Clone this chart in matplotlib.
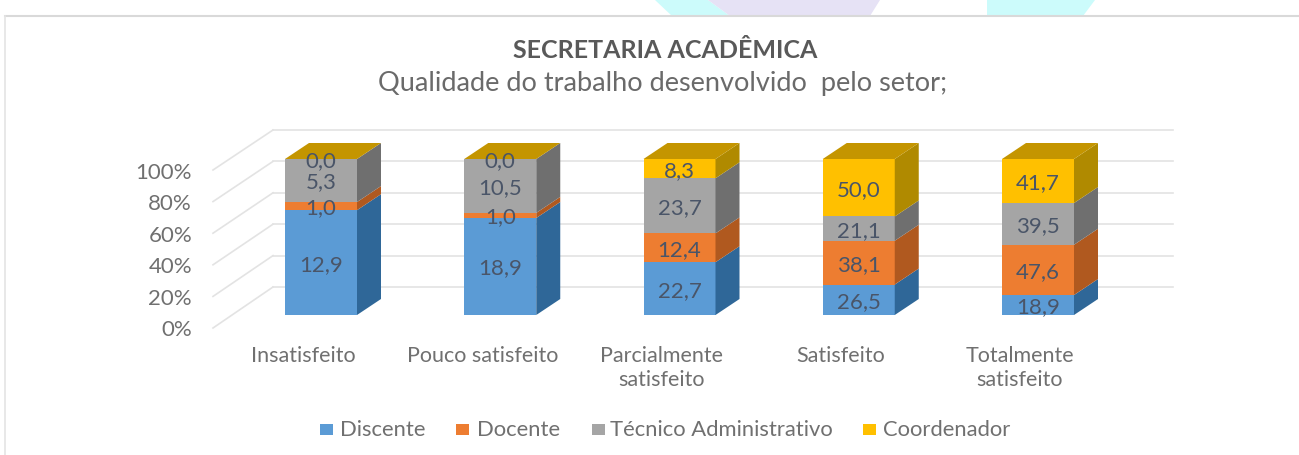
import matplotlib
matplotlib.use("Agg")
import matplotlib.pyplot as plt
from matplotlib.patches import Polygon, Rectangle

categories = ["Insatisfeito", "Pouco satisfeito", "Parcialmente\nsatisfeito", "Satisfeito", "Totalmente\nsatisfeito"]
discente = [12.9, 18.9, 22.7, 26.5, 18.9]
docente = [1.0, 1.0, 12.4, 38.1, 47.6]
tecnico = [5.3, 10.5, 23.7, 21.1, 39.5]
coordenador = [0.0, 0.0, 8.3, 50.0, 41.7]
series_names = ["Discente", "Docente", "Técnico Administrativo", "Coordenador"]
series = [discente, docente, tecnico, coordenador]
y_ticks = [0, 20, 40, 60, 80, 100]

front = ["#5b9bd5", "#ed7d31", "#a5a5a5", "#ffc000"]
side = ["#2f6798", "#b0591f", "#6f6f6f", "#b08a00"]
top = "#c49500"
text_c = "#707070"
FONT = "Lato"

W, H = 1299, 455
fig = plt.figure(figsize=(W / 100, H / 100), dpi=100)
ax = fig.add_axes([0, 0, 1, 1])
PX = 179.25      # pixels per category
PY = 1.56        # pixels per percent
X0, Y0 = 321, 315
ax.set_xlim(-X0 / PX, (W - X0) / PX)
ax.set_ylim(-(H - Y0) / PY, Y0 / PY)
ax.axis("off")
dx = lambda px: px / PX
dy = lambda px: px / PY
cx = lambda px: (px - X0) / PX
cy = lambda px: (Y0 - px) / PY

# backdrop shapes and panel
ax.add_patch(Polygon([(cx(655), cy(0)), (cx(708), cy(0)), (cx(730), cy(16)), (cx(672), cy(16))], fc="#ccfbfb", ec="none"))
ax.add_patch(Polygon([(cx(708), cy(0)), (cx(880), cy(0)), (cx(870), cy(16)), (cx(730), cy(16))], fc="#e6e2f5", ec="none"))
ax.add_patch(Polygon([(cx(987), cy(0)), (cx(1095), cy(0)), (cx(1083), cy(16)), (cx(987), cy(16))], fc="#ccfbfb", ec="none"))
ax.plot([cx(5), cx(1299)], [cy(15.5), cy(15.5)], color="#d9d9d9", lw=1.5)
ax.plot([cx(5), cx(5)], [cy(15.5), cy(455)], color="#e4e4e4", lw=1.2)

# walls
for t in y_ticks:
    back = (cx(273), cy(287) + t * 1.57 / PY)
    frnt = (cx(213), cy(328) + t * 1.58 / PY)
    ax.plot([frnt[0], back[0]], [frnt[1], back[1]], color="#e3e3e3", lw=1.2, zorder=1)
    ax.plot([back[0], cx(1173)], [back[1], back[1]], color="#e3e3e3", lw=1.2, zorder=1)
    ax.text(cx(192), cy(330) + t * 1.57 / PY, f"{t}%", ha="right", va="center",
            fontsize=16, color=text_c, family=FONT)

BW = 72 / PX
DX, DY = dx(24), dy(16)
label_dx = dx(-18)
for i, cat in enumerate(categories):
    total = sum(s[i] for s in series)
    bottom = 0.0
    x0, x1 = i - BW / 2, i + BW / 2
    for k, s in enumerate(series):
        h = s[i] / total * 100
        ax.bar(i, h, BW, bottom=bottom, color=front[k], zorder=3)
        ax.add_patch(Polygon([(x1, bottom), (x1 + DX, bottom + DY), (x1 + DX, bottom + h + DY), (x1, bottom + h)],
                             fc=side[k], ec="none", zorder=3))
        label = f"{s[i]:.1f}".replace(".", ",")
        ax.text(i, bottom + h / 2 - dy(2), label, ha="center", va="center", fontsize=16, color="#4a5568",
                family=FONT, zorder=5)
        bottom += h
    ax.add_patch(Polygon([(x0, 100), (x0 + DX, 100 + DY), (x1 + DX, 100 + DY), (x1, 100)],
                         fc=top, ec="none", zorder=3))
    ax.text(i + label_dx, cy(368.5) if "\n" in cat else cy(356), cat, ha="center", va="center", fontsize=15.5,
            color=text_c, family=FONT, linespacing=1.25)

ax.text(cx(665), cy(51), "SECRETARIA ACADÊMICA", ha="center", va="center", fontsize=18,
        fontweight="bold", color="#595959", family=FONT)
ax.text(cx(663), cy(84), "Qualidade do trabalho desenvolvido  pelo setor;", ha="center", va="center",
        fontsize=19.5, color="#6a6a6a", family=FONT)

# legend
swatch_x = [320, 456, 592, 863]
text_x = [340, 477, 610, 883]
for sx, tx, name, col in zip(swatch_x, text_x, series_names, front):
    ax.add_patch(Rectangle((cx(sx), cy(435)), dx(13), dy(11), fc=col, ec="none"))
    ax.text(cx(tx), cy(430), name, ha="left", va="center", fontsize=15.8, color=text_c, family=FONT)

fig.savefig("out.png", dpi=100)
